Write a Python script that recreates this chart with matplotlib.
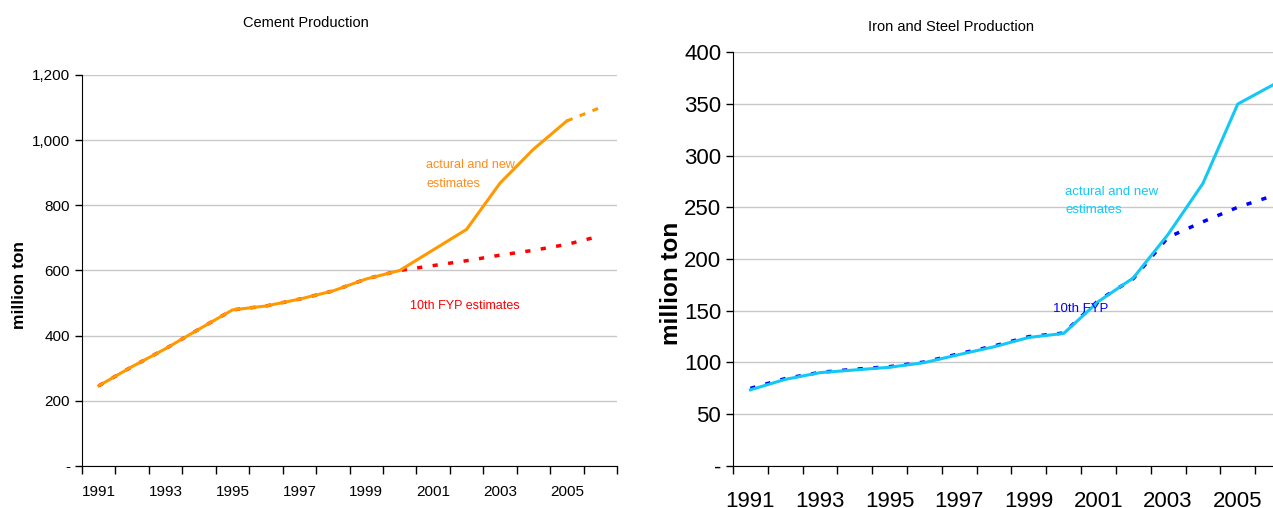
import matplotlib
matplotlib.use("Agg")
import matplotlib.pyplot as plt
from matplotlib.ticker import FuncFormatter

plt.rcParams['font.family'] = ['Liberation Sans Narrow', 'Liberation Sans', 'DejaVu Sans']

years = list(range(1991, 2007))
year_labels = [str(y) if y % 2 == 1 else "" for y in years]

# Cement (million ton)
cement_actual = [246, 305, 360, 420, 479, 491, 512, 537, 574, 600,
                 663, 726, 868, 972, 1059, 1100]
cement_fyp = [246, 305, 360, 420, 479, 491, 512, 537, 574, 600,
              615, 630, 647, 662, 680, 706]

# Iron and steel (million ton)
steel_actual = [73.6, 83.7, 90.2, 92.8, 95.4, 99.9, 107.7, 115.2, 124.2, 128.1,
                159, 181.7, 223.8, 273, 349.7, 368]
steel_fyp = [75, 84.5, 90.5, 93.5, 96, 100.5, 108.5, 116, 125, 128.5,
             160, 181, 221, 236, 250, 261]

ORANGE = "#FF9900"
RED = "#FF0000"
CYAN = "#14C8F5"
BLUE = "#0000FF"


def style_axes(ax, label_size, pad):
    x = list(range(len(years)))
    ax.set_xlim(-0.5, len(years) - 0.5)
    ax.set_xticks([i - 0.5 for i in range(len(years) + 1)])
    ax.set_xticklabels([])
    ax.set_xticks(x, minor=True)
    ax.set_xticklabels(year_labels, minor=True, fontsize=label_size)
    ax.tick_params(axis="x", which="major", length=6, direction="out", width=1)
    ax.tick_params(axis="x", which="minor", length=0, pad=pad)
    ax.tick_params(axis="y", length=5, direction="out", width=1, labelsize=label_size)
    ax.spines["top"].set_visible(False)
    ax.spines["right"].set_visible(False)
    ax.spines["left"].set_color("black")
    ax.spines["bottom"].set_color("black")
    ax.grid(True, axis="y", color="#C8C8C8", linewidth=1)
    ax.set_axisbelow(True)


fig = plt.figure(figsize=(12.73, 5.08), dpi=100)
W, H = 1273, 508

# --- Cement ---
ax1 = fig.add_axes([0.0644, 0.0827, 0.4203, 0.7697])
x = list(range(len(years)))
ax1.plot(x, cement_fyp, color=RED, linewidth=2.5, linestyle=(0, (1.5, 3)))
ax1.plot(x[:15], cement_actual[:15], color=ORANGE, linewidth=2.2, solid_joinstyle="miter")
ax1.plot(x[14:], cement_actual[14:], color=ORANGE, linewidth=2.2, linestyle=(0, (2, 2.5)))
ax1.set_ylim(0, 1200)
ax1.set_yticks([0, 200, 400, 600, 800, 1000, 1200])
ax1.yaxis.set_major_formatter(FuncFormatter(lambda v, p: "-" if v == 0 else f"{int(v):,}"))
style_axes(ax1, 11, 14)
fig.text(20 / W, 1 - 285 / H, "million ton", fontsize=12.5, fontweight="bold",
         rotation=90, ha="center", va="center")
ax1.text(9.8, 942, "actural and new\nestimates", color="#FF8C1A", fontsize=9, va="top", linespacing=1.75)
ax1.text(9.3, 490, "10th FYP estimates", color=RED, fontsize=9, va="center")
fig.text(0.24, 0.955, "Cement Production", fontsize=10.5, ha="center", va="center")

# --- Iron and Steel ---
ax2 = fig.add_axes([0.5758, 0.0827, 0.4375, 0.8149])
ax2.plot(x, steel_fyp, color=BLUE, linewidth=2.5, linestyle=(0, (1.5, 3)))
ax2.plot(x, steel_actual, color=CYAN, linewidth=2.2, solid_joinstyle="miter")
ax2.set_ylim(0, 400)
ax2.set_yticks(range(0, 401, 50))
ax2.yaxis.set_major_formatter(FuncFormatter(lambda v, p: "-" if v == 0 else f"{int(v)}"))
style_axes(ax2, 16, 18)
fig.text(672 / W, 1 - 283 / H, "million ton", fontsize=17.5, fontweight="bold",
         rotation=90, ha="center", va="center")
ax2.text(9.05, 271, "actural and new\nestimates", color=CYAN, fontsize=9.5, va="top", linespacing=1.75)
ax2.text(8.7, 152, "10th FYP", color=BLUE, fontsize=9.5, va="center")
fig.text(0.747, 0.947, "Iron and Steel Production", fontsize=10.5, ha="center", va="center")

fig.savefig("out.png", dpi=100)
